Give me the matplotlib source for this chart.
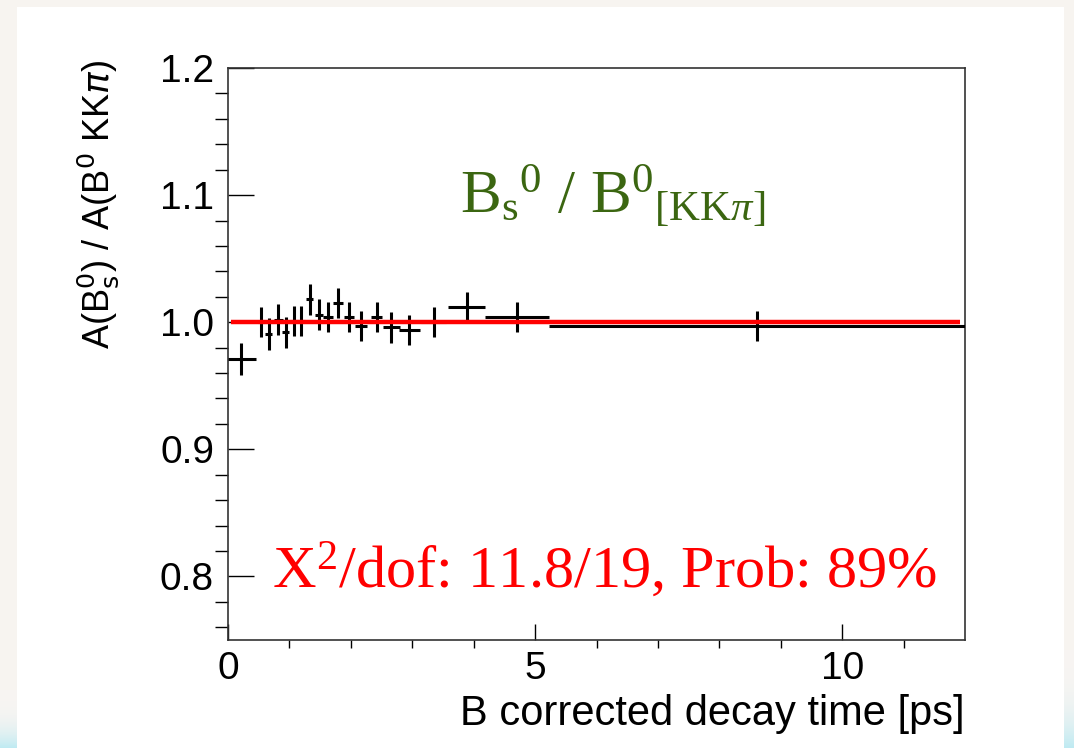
import matplotlib
matplotlib.use("Agg")
import matplotlib.pyplot as plt
from matplotlib.patches import Rectangle
import numpy as np

plt.rcParams['font.family'] = ['Liberation Sans', 'DejaVu Sans']
plt.rcParams['mathtext.fontset'] = 'custom'
plt.rcParams['mathtext.rm'] = 'Liberation Serif'
plt.rcParams['mathtext.it'] = 'Liberation Serif:italic'
plt.rcParams['mathtext.bf'] = 'Liberation Serif:bold'

# ratio per decay-time bin
t = [0.21, 0.54, 0.66, 0.82, 0.94, 1.08, 1.19, 1.33, 1.48, 1.63,
     1.79, 1.97, 2.16, 2.42, 2.66, 2.94, 3.35, 3.89, 4.71, 8.61]
t_lo = [0.21, 0.05, 0.055, 0.07, 0.06, 0.06, 0.06, 0.06, 0.07, 0.08,
        0.08, 0.085, 0.1, 0.09, 0.14, 0.15, 0.2, 0.31, 0.52, 3.39]
t_hi = [0.24, 0.05, 0.055, 0.07, 0.06, 0.06, 0.06, 0.06, 0.07, 0.08,
        0.08, 0.085, 0.1, 0.09, 0.14, 0.19, 0.2, 0.30, 0.51, 3.39]
ratio = [0.971, 1.000, 0.991, 1.002, 0.992, 1.001, 1.001, 1.018, 1.006, 1.004,
         1.015, 1.004, 0.997, 1.004, 0.996, 0.994, 1.000, 1.012, 1.004, 0.997]
ratio_err = [0.0125, 0.012, 0.0125, 0.012, 0.0125, 0.012, 0.012, 0.012, 0.012, 0.012,
             0.012, 0.012, 0.012, 0.012, 0.012, 0.012, 0.012, 0.012, 0.012, 0.012]

fit_range = [0.05, 11.92]
fit_value = 1.0

fig = plt.figure(figsize=(10.74, 7.48), dpi=100, facecolor='#f7f4f0')

# slide background: white panel with light edges
bg = fig.add_axes([0, 0, 1, 1], zorder=-10)
bg.set_xlim(0, 1074)
bg.set_ylim(748, 0)
bg.axis('off')
edge = np.linspace(0, 1, 60)[:, None] ** 3
tint = np.dstack([0.97 - 0.22 * edge, 0.96 - 0.04 * edge, 0.95 + 0.0 * edge])
bg.imshow(tint, extent=[0, 17, 748, 690], aspect='auto', interpolation='bicubic')
bg.imshow(tint, extent=[1064, 1074, 748, 650], aspect='auto', interpolation='bicubic')
bg.add_patch(Rectangle((17, 7), 1047, 741, facecolor='white', edgecolor='none'))

ax = fig.add_axes([228 / 1074, 1 - 640 / 748, 737 / 1074, 572 / 748])
ax.errorbar(t, ratio, xerr=[t_lo, t_hi], yerr=ratio_err, fmt='none',
            ecolor='black', elinewidth=2.2, capsize=0, zorder=3)
ax.plot(fit_range, [fit_value, fit_value], color='#ff0000', lw=3.2, zorder=4,
        solid_capstyle='butt')

ax.set_xlim(0, 12)
ax.set_ylim(0.75, 1.2)
ax.set_xticks([0, 5, 10])
ax.set_xticks(np.arange(1, 12, 1), minor=True)
ax.set_yticks([0.8, 0.9, 1.0, 1.1, 1.2])
ax.set_yticks(np.arange(0.76, 1.2, 0.02), minor=True)
ax.set_yticklabels(['0.8', '0.9', '1.0', '1.1', '1.2'])
ax.tick_params(axis='both', direction='in', colors='black', labelsize=28,
               top=False, right=False)
ax.tick_params(axis='x', which='major', length=11.5, width=1.0, pad=8)
ax.tick_params(axis='x', which='minor', length=5.8, width=1.0)
ax.tick_params(axis='y', which='major', length=18.5, width=1.0, pad=10)
ax.tick_params(axis='y', which='minor', length=9.3, width=1.0)
for s in ax.spines.values():
    s.set_linewidth(1.2)
    s.set_color('#333333')

ax.set_xlabel('B corrected decay time [ps]', fontsize=30, ha='right', x=1.0,
              labelpad=5)
ax.set_ylabel(r'A(B$_{\rm s}^{0}$) / A(B$^{0}$ KK$\pi$)', fontsize=26,
              ha='right', y=1.015, labelpad=28, math_fontfamily='dejavusans')

ax.text(0.315, 0.746, r'${\rm B_s}^{0}$ / ${\rm B}^{0}{}_{[{\rm KK}\pi]}$',
        transform=ax.transAxes, fontsize=44, color='#3b6611',
        family='Liberation Serif', ha='left', va='baseline')
ax.text(0.06, 0.091, r'X$^{2}$/dof: 11.8/19, Prob: 89%',
        transform=ax.transAxes, fontsize=43.5, color='#ff0000',
        family='Liberation Serif', ha='left', va='baseline')

fig.savefig('out.png', dpi=100, facecolor=fig.get_facecolor())
